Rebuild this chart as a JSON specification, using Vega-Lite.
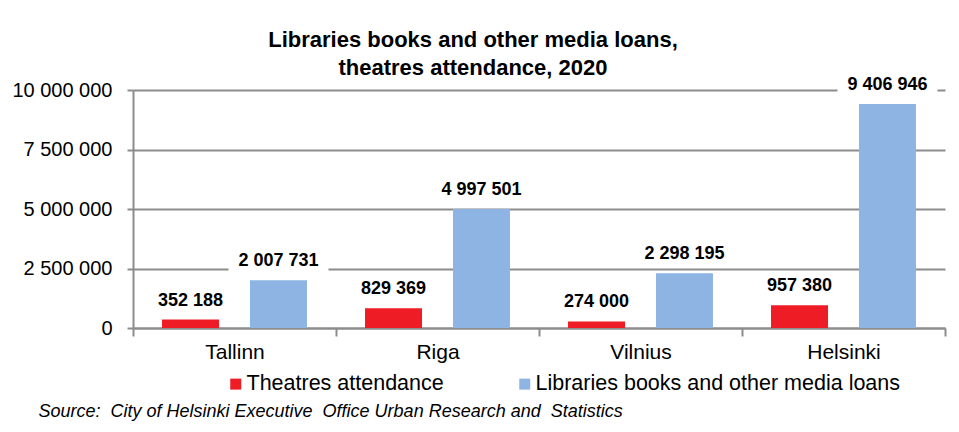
{
  "$schema": "https://vega.github.io/schema/vega-lite/v6.json",
  "width": 812,
  "height": 238,
  "autosize": {"type": "none"},
  "padding": {"left": 133, "top": 90, "right": 14, "bottom": 104},
  "background": "white",
  "title": {
    "text": ["Libraries books and other media loans,", "theatres attendance, 2020"],
    "fontSize": 22,
    "fontWeight": "bold",
    "color": "#000000",
    "anchor": "middle",
    "dx": -66,
    "lineHeight": 28,
    "offset": -6
  },
  "data": {
    "values": [
      {"city": "Tallinn", "series": "Theatres attendance", "value": 352188},
      {"city": "Tallinn", "series": "Libraries books and other media loans", "value": 2007731},
      {"city": "Riga", "series": "Theatres attendance", "value": 829369},
      {"city": "Riga", "series": "Libraries books and other media loans", "value": 4997501},
      {"city": "Vilnius", "series": "Theatres attendance", "value": 274000},
      {"city": "Vilnius", "series": "Libraries books and other media loans", "value": 2298195},
      {"city": "Helsinki", "series": "Theatres attendance", "value": 957380},
      {"city": "Helsinki", "series": "Libraries books and other media loans", "value": 9406946}
    ]
  },
  "encoding": {
    "x": {
      "field": "city",
      "type": "nominal",
      "sort": ["Tallinn", "Riga", "Vilnius", "Helsinki"],
      "scale": {"paddingInner": 0, "paddingOuter": 0},
      "axis": {
        "labelAngle": 0,
        "labelFontSize": 21,
        "labelColor": "#000000",
        "labelPadding": 5,
        "tickBand": "extent",
        "tickSize": 8,
        "tickWidth": 2,
        "tickColor": "#8c8c8c",
        "domainColor": "#8c8c8c",
        "domainWidth": 2,
        "grid": false,
        "title": "Source:\u00a0 City of Helsinki Executive\u00a0 Office Urban Research and\u00a0 Statistics",
        "titleFontSize": 18,
        "titleFontStyle": "italic",
        "titleFontWeight": "normal",
        "titleColor": "#000000",
        "titleAnchor": "start",
        "titleAlign": "left",
        "titleBaseline": "middle",
        "titleX": -95,
        "titleY": 83
      }
    },
    "xOffset": {
      "field": "series",
      "type": "nominal",
      "sort": ["Theatres attendance", "Libraries books and other media loans"],
      "scale": {"paddingInner": 0.352, "paddingOuter": 0.33}
    },
    "y": {
      "field": "value",
      "type": "quantitative",
      "scale": {"domain": [0, 10000000], "nice": false},
      "axis": {
        "values": [0, 2500000, 5000000, 7500000, 10000000],
        "format": ",d",
        "title": null,
        "labelFontSize": 20,
        "labelColor": "#000000",
        "labelPadding": 15,
        "tickSize": 6,
        "tickWidth": 2,
        "tickColor": "#8c8c8c",
        "domainColor": "#8c8c8c",
        "domainWidth": 2,
        "grid": true,
        "gridColor": "#8c8c8c",
        "gridWidth": 2
      }
    }
  },
  "layer": [
    {
      "mark": {"type": "bar"},
      "encoding": {
        "color": {
          "field": "series",
          "type": "nominal",
          "sort": ["Theatres attendance", "Libraries books and other media loans"],
          "scale": {
            "domain": ["Theatres attendance", "Libraries books and other media loans"],
            "range": ["#ee1c25", "#8db4e2"]
          },
          "legend": {
            "orient": "none",
            "legendX": 92,
            "legendY": 283,
            "direction": "horizontal",
            "title": null,
            "labelFontSize": 21.5,
            "labelColor": "#000000",
            "labelLimit": 0,
            "symbolType": "square",
            "symbolSize": 121,
            "symbolStrokeWidth": 0,
            "labelOffset": 0,
            "columnPadding": 70
          }
        }
      }
    },
    {
      "mark": {"type": "tick", "color": "white", "opacity": 1, "size": 100, "thickness": 22, "yOffset": -19},
      "encoding": {}
    },
    {
      "mark": {"type": "text", "fontSize": 18, "fontWeight": "bold", "color": "#000000", "dy": -19, "baseline": "middle"},
      "encoding": {
        "text": {"field": "value", "type": "quantitative", "format": ",d"}
      }
    }
  ],
  "config": {
    "font": "Liberation Sans",
    "locale": {"number": {"decimal": ".", "thousands": " ", "grouping": [3], "currency": ["", ""]}},
    "view": {"stroke": null}
  }
}
